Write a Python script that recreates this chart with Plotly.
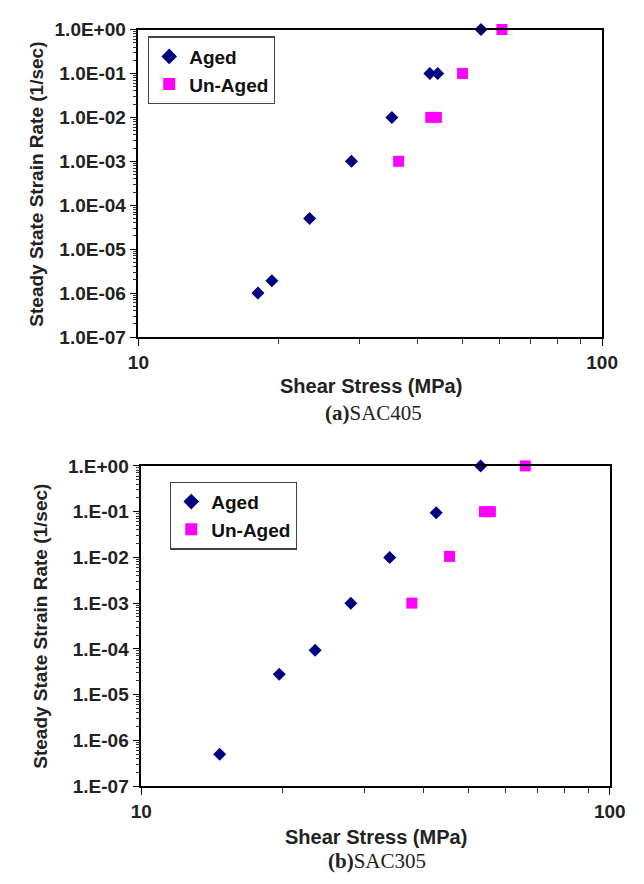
import plotly.graph_objects as go

# ---- data ----
# (a) SAC405
a_aged_x = [18.1, 19.4, 23.4, 28.8, 35.2, 42.5, 44.2, 54.8]
a_aged_y = [1e-6, 1.9e-6, 5e-5, 1e-3, 1e-2, 1e-1, 1e-1, 1.0]
a_unaged_x = [36.4, 42.7, 43.9, 50.0, 60.8]
a_unaged_y = [1e-3, 1e-2, 1e-2, 1e-1, 1.0]
# (b) SAC305
b_aged_x = [14.7, 19.7, 23.5, 28.0, 33.9, 42.6, 53.0]
b_aged_y = [5e-7, 2.8e-5, 9.3e-5, 1e-3, 1e-2, 9.5e-2, 1.0]
b_unaged_x = [37.8, 45.5, 54.0, 55.6, 66.0]
b_unaged_y = [1e-3, 1.05e-2, 1e-1, 1e-1, 1.0]

y_tickvals = [1e0, 1e-1, 1e-2, 1e-3, 1e-4, 1e-5, 1e-6, 1e-7]
a_y_ticktext = ["1.0E+00", "1.0E-01", "1.0E-02", "1.0E-03", "1.0E-04", "1.0E-05", "1.0E-06", "1.0E-07"]
b_y_ticktext = ["1.E+00", "1.E-01", "1.E-02", "1.E-03", "1.E-04", "1.E-05", "1.E-06", "1.E-07"]
x_tickvals = [10, 100]
x_ticktext = ["10", "100"]
x_minor_vals = [20, 30, 40, 50, 60, 70, 80, 90]
y_minor_vals = [float(f"{k}e{e}") for e in range(-7, 0) for k in range(2, 10)]

W, H = 644, 884
NAVY = "#000080"
MAG = "#FF00FF"
FONT = "Liberation Sans"

fig = go.Figure()

def add(x, y, name, sym, color, size, xa, ya, legend):
    fig.add_trace(go.Scatter(
        x=x, y=y, mode="markers", name=name, xaxis=xa, yaxis=ya,
        legend=legend, cliponaxis=False,
        marker=dict(symbol=sym, color=color, size=size, line=dict(width=0)),
    ))

add(a_aged_x, a_aged_y, "<b>Aged</b>", "diamond", NAVY, 10, "x", "y", "legend")
add(a_unaged_x, a_unaged_y, "<b>Un-Aged</b>", "square", MAG, 11, "x", "y", "legend")
add(b_aged_x, b_aged_y, "<b>Aged</b>", "diamond", NAVY, 10, "x2", "y2", "legend2")
add(b_unaged_x, b_unaged_y, "<b>Un-Aged</b>", "square", MAG, 11, "x2", "y2", "legend2")

# invisible helper traces so the minor-tick overlay axes are drawn
for ya, xa in (("y3", "x"), ("y4", "x2")):
    fig.add_trace(go.Scatter(x=[10], y=[1e-3], xaxis=xa, yaxis=ya, mode="markers",
                             marker=dict(opacity=0), showlegend=False, hoverinfo="skip"))

def px_x(p):
    return p / W

def px_y(p):
    return 1 - p / H

axis_common = dict(
    type="log", showline=True, linecolor="black", linewidth=1.5, mirror=True,
    showgrid=False, zeroline=False, ticks="outside", ticklen=7, tickcolor="black",
    tickfont=dict(family=FONT, size=19, color="#222", weight="bold"),
)
x_minor = dict(ticks="outside", ticklen=5, tickcolor="#333", tickwidth=1, showgrid=False,
               tickmode="array", tickvals=x_minor_vals)
minor_axis = dict(type="log", range=[-7, 0], tickmode="array", tickvals=y_minor_vals,
                  ticks="outside", ticklen=4, tickcolor="#333", tickwidth=1,
                  showticklabels=False, showgrid=False, showline=False, zeroline=False,
                  side="left")

dom_a = [px_y(335), px_y(20)]
dom_b = [px_y(795), px_y(467)]
fig.update_layout(
    xaxis=dict(axis_common, domain=[px_x(133), px_x(617)], range=[1, 2],
               tickvals=x_tickvals, ticktext=x_ticktext, anchor="y", minor=x_minor),
    yaxis=dict(axis_common, domain=dom_a, range=[-7, 0],
               tickvals=y_tickvals, ticktext=a_y_ticktext, anchor="x"),
    xaxis2=dict(axis_common, domain=[px_x(136), px_x(625)], range=[1, 2],
                tickvals=x_tickvals, ticktext=x_ticktext, anchor="y2", minor=x_minor),
    yaxis2=dict(axis_common, domain=dom_b, range=[-7, 0],
                tickvals=y_tickvals, ticktext=b_y_ticktext, anchor="x2"),
    yaxis3=dict(minor_axis, overlaying="y", anchor="x"),
    yaxis4=dict(minor_axis, overlaying="y2", anchor="x2"),
)

legend_common = dict(
    bgcolor="white", bordercolor="#444", borderwidth=1.2,
    font=dict(family=FONT, size=19, color="#111"),
    xanchor="left", yanchor="top", itemsizing="constant",
    tracegroupgap=0, itemwidth=30,
)
fig.update_layout(
    legend=dict(legend_common, x=px_x(143), y=px_y(27)),
    legend2=dict(legend_common, x=px_x(166), y=px_y(483)),
)

ann = []
title_font = dict(family=FONT, size=19, color="#222")
ann.append(dict(text="<b>Steady State Strain Rate (1/sec)</b>", x=px_x(27), y=px_y(178),
                textangle=-90, font=title_font))
ann.append(dict(text="<b>Steady State Strain Rate (1/sec)</b>", x=px_x(30), y=px_y(631),
                textangle=-90, font=title_font))
ann.append(dict(text="<b>Shear Stress (MPa)</b>", x=px_x(376), y=px_y(385), font=dict(title_font, size=20)))
ann.append(dict(text="<b>Shear Stress (MPa)</b>", x=px_x(381), y=px_y(847), font=dict(title_font, size=20)))
cap_font = dict(family="Liberation Serif", size=21, color="#222")
ann.append(dict(text="<b>(a)</b>SAC405", x=px_x(378), y=px_y(413), font=cap_font))
ann.append(dict(text="<b>(b)</b>SAC305", x=px_x(382), y=px_y(872), font=cap_font))
for a in ann:
    a.update(xref="paper", yref="paper", showarrow=False, xanchor="center", yanchor="middle")
fig.update_layout(annotations=ann)

fig.update_layout(
    width=W, height=H, margin=dict(l=0, r=0, t=0, b=0),
    paper_bgcolor="white", plot_bgcolor="white", showlegend=True,
)

fig.write_html("out.html")
